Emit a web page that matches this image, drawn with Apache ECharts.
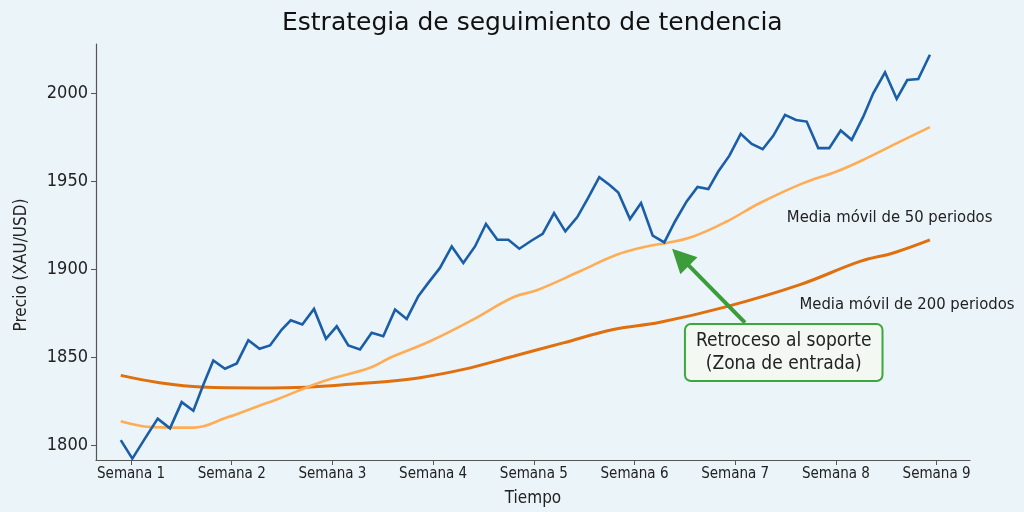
<!DOCTYPE html>
<html>
<head>
<meta charset="utf-8">
<script src="https://cdn.jsdelivr.net/npm/echarts@6/dist/echarts.min.js"></script>
<style>
  html, body { margin: 0; padding: 0; background: #ebf4f9; }
  #chart { width: 1024px; height: 512px; }
</style>
</head>
<body>
<div id="chart"></div>
<script>
// ---- Data ----
const title = 'Estrategia de seguimiento de tendencia';
const weekTicks = [1, 2, 3, 4, 5, 6, 7, 8, 9];
const weekLabelPrefix = 'Semana ';
const priceTicks = [1800, 1850, 1900, 1950, 2000];

// price: time (in weeks) and value
const priceTime = [0.898, 1.013, 1.139, 1.265, 1.387, 1.503, 1.619, 1.715, 1.817, 1.933,
  2.050, 2.165, 2.276, 2.380, 2.497, 2.586, 2.701, 2.817, 2.936, 3.043,
  3.158, 3.274, 3.390, 3.505, 3.622, 3.738, 3.853, 3.952, 4.068, 4.185,
  4.300, 4.416, 4.525, 4.638, 4.747, 4.856, 4.979, 5.088, 5.201, 5.313,
  5.432, 5.541, 5.650, 5.750, 5.839, 5.955, 6.065, 6.181, 6.296, 6.402,
  6.518, 6.626, 6.733, 6.832, 6.941, 7.055, 7.164, 7.273, 7.378, 7.495,
  7.604, 7.710, 7.825, 7.934, 8.048, 8.157, 8.272, 8.371, 8.488, 8.604,
  8.709, 8.818, 8.934];
const price = [1802.8, 1792.3, 1803.8, 1815.0, 1809.5, 1824.4, 1819.5, 1833.9, 1848.1, 1843.4,
  1846.4, 1859.6, 1854.7, 1856.6, 1865.7, 1870.9, 1868.5, 1877.4, 1860.4, 1867.5,
  1856.6, 1854.3, 1863.8, 1861.9, 1877.0, 1871.7, 1884.6, 1892.2, 1900.7, 1912.9,
  1903.5, 1912.9, 1925.7, 1916.7, 1916.7, 1911.6, 1916.3, 1920.1, 1931.9, 1921.5,
  1929.6, 1940.6, 1952.3, 1948.0, 1943.6, 1928.5, 1937.6, 1919.0, 1915.2, 1927.1,
  1938.5, 1946.7, 1945.5, 1955.5, 1964.4, 1976.9, 1971.2, 1968.2, 1975.8, 1987.7,
  1984.8, 1983.9, 1968.8, 1968.8, 1978.8, 1973.5, 1986.7, 2000.0, 2011.9, 1996.8,
  2007.5, 2008.1, 2021.9];

// 50-period moving average
const ma50Time = [0.898, 1.221, 1.619, 1.950, 2.281, 2.447, 2.910, 3.373, 3.572, 3.969,
  4.367, 4.796, 5.029, 5.459, 5.823, 6.121, 6.320, 6.584, 6.916, 7.246,
  7.676, 8.008, 8.306, 8.637, 8.934];
const ma50 = [1813.6, 1810.2, 1809.9, 1815.6, 1822.5, 1825.9, 1836.3, 1843.9, 1849.6, 1859.0,
  1870.4, 1884.0, 1888.0, 1898.8, 1908.2, 1912.9, 1914.9, 1918.6, 1927.1, 1937.6,
  1948.9, 1955.5, 1963.1, 1972.5, 1980.7];

// 200-period moving average
const ma200Time = [0.898, 1.268, 1.702, 2.261, 2.745, 3.241, 3.572, 3.870, 4.300, 4.796,
  5.293, 5.790, 6.253, 6.916, 7.644, 8.240, 8.570, 8.934];
const ma200 = [1839.6, 1835.6, 1833.0, 1832.5, 1832.9, 1834.8, 1836.3, 1838.3, 1843.0, 1850.5,
  1858.1, 1865.7, 1869.8, 1878.7, 1891.2, 1904.4, 1909.2, 1916.6];

// annotation texts and anchor values [week, price]
const ma50Text = 'Media móvil de 50 periodos';
const ma200Text = 'Media móvil de 200 periodos';
const ma50TextAt = [8.534, 1929.1];
const ma200TextAt = [8.706, 1879.8];
const boxText = 'Retroceso al soporte\n(Zona de entrada)';
const boxAt = [7.482, 1852.6];
const arrowFrom = [7.097, 1869.6];
const arrowTo = [6.457, 1906.8];

function pairs(xs, ys) { return xs.map((x, i) => [x, ys[i]]); }

const chart = echarts.init(document.getElementById('chart'), null, { renderer: 'canvas' });
const axisColor = '#555';
const textColor = '#222';
const condensed = '"DejaVu Sans Condensed", "DejaVu Sans", sans-serif';

chart.setOption({
  animation: false,
  backgroundColor: '#ebf4f9',
  title: {
    text: title,
    left: 277,
    top: 6,
    textStyle: { fontFamily: '"DejaVu Sans", sans-serif', fontSize: 25, fontWeight: 'normal', color: '#111' }
  },
  grid: { left: 96, right: 54, top: 44, bottom: 51 },
  xAxis: {
    type: 'value',
    min: 0.652,
    max: 9.332,
    name: 'Tiempo',
    nameLocation: 'middle',
    nameGap: 30,
    nameTextStyle: { fontFamily: condensed, fontSize: 17, color: textColor },
    axisLine: { show: true, lineStyle: { color: axisColor, width: 1.2 } },
    axisTick: { show: true, length: 5, customValues: weekTicks, lineStyle: { color: axisColor } },
    axisLabel: {
      customValues: weekTicks,
      formatter: v => weekLabelPrefix + v,
      fontFamily: condensed, fontSize: 15, color: textColor, margin: 7
    },
    splitLine: { show: false }
  },
  yAxis: {
    type: 'value',
    min: 1791.5,
    max: 2028,
    name: 'Precio (XAU/USD)',
    nameLocation: 'middle',
    nameGap: 66,
    nameTextStyle: { fontFamily: condensed, fontSize: 17, color: textColor, padding: [0, 0, 0, -26] },
    axisLine: { show: true, lineStyle: { color: axisColor, width: 1.2 } },
    axisTick: { show: true, length: 5, customValues: priceTicks, lineStyle: { color: axisColor } },
    axisLabel: {
      customValues: priceTicks,
      formatter: v => String(v),
      fontFamily: condensed, fontSize: 18, color: textColor, margin: 8
    },
    splitLine: { show: false }
  },
  series: [
    {
      name: 'MA200',
      type: 'line',
      data: pairs(ma200Time, ma200),
      smooth: 0.4,
      showSymbol: false,
      lineStyle: { color: '#e0700e', width: 3 },
      z: 2,
      markPoint: {
        symbol: 'circle', symbolSize: 0, silent: true,
        data: [{
          coord: ma200TextAt,
          label: { show: true, formatter: ma200Text, position: 'inside',
                   fontFamily: condensed, fontSize: 16.5, color: textColor }
        }]
      }
    },
    {
      name: 'MA50',
      type: 'line',
      data: pairs(ma50Time, ma50),
      smooth: 0.4,
      showSymbol: false,
      lineStyle: { color: '#ffad55', width: 2.6 },
      z: 3,
      markPoint: {
        symbol: 'circle', symbolSize: 0, silent: true,
        data: [{
          coord: ma50TextAt,
          label: { show: true, formatter: ma50Text, position: 'inside',
                   fontFamily: condensed, fontSize: 16.5, color: textColor }
        }]
      }
    },
    {
      name: 'Precio',
      type: 'line',
      data: pairs(priceTime, price),
      showSymbol: false,
      lineStyle: { color: '#1a5ea8', width: 2.6, join: 'miter' },
      z: 4,
      markLine: {
        silent: true,
        symbol: ['none', 'triangle'],
        symbolSize: 24,
        label: { show: false },
        lineStyle: { color: '#3a9d3a', width: 4, type: 'solid' },
        data: [[{ coord: arrowFrom }, { coord: arrowTo }]]
      },
      markPoint: {
        symbol: 'circle', symbolSize: 0, silent: true,
        data: [{
          coord: boxAt,
          label: {
            show: true, formatter: boxText, position: 'inside',
            fontFamily: condensed, fontSize: 19, color: textColor, lineHeight: 23,
            align: 'center',
            backgroundColor: '#f3f9f2', borderColor: '#3aa83a', borderWidth: 2, borderRadius: 5,
            padding: [5, 10, 4, 10]
          }
        }]
      }
    }
  ]
});
</script>
</body>
</html>
